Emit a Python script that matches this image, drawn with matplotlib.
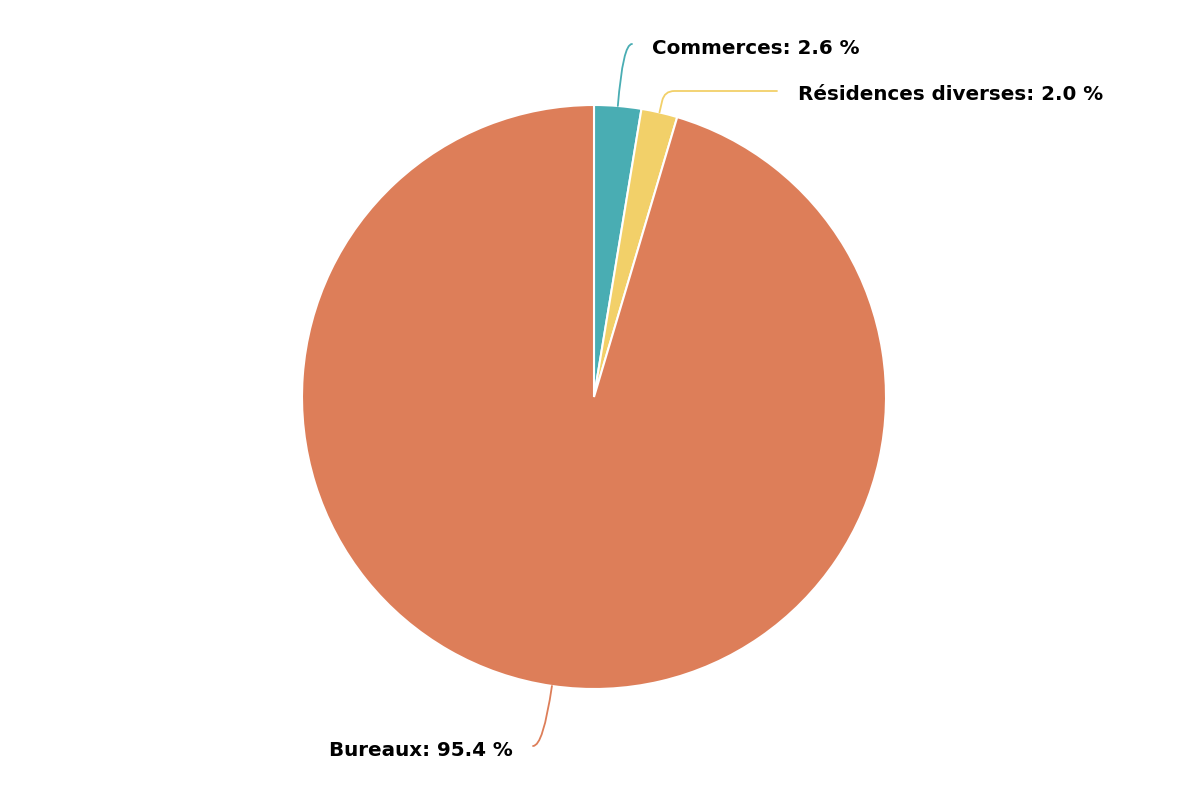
import matplotlib
matplotlib.use("Agg")
import numpy as np
import matplotlib.pyplot as plt

labels = ["Commerces", "Résidences diverses", "Bureaux"]
values = [2.6, 2.0, 95.4]
colors = ["#49adb3", "#f2d069", "#dd7e59"]

fig = plt.figure(figsize=(12, 8), dpi=100)
ax = fig.add_axes([0, 0, 1, 1])

cx, cy, r = 594, 403, 292
wedges, _ = ax.pie(values, colors=colors, startangle=90, counterclock=False,
                   center=(cx, cy), radius=r, frame=True,
                   wedgeprops=dict(edgecolor="white", linewidth=1.5))
ax.set_xlim(0, 1200)
ax.set_ylim(0, 800)
ax.set_aspect("equal")
ax.axis("off")

# label layout: text x, text y, alignment, connector end x, connector style
layout = [(652, 752, "left", 632, "angle3,angleA=0,angleB={a}"),
          (798, 705, "left", 777, "angle,angleA=0,angleB={a},rad=10"),
          (513, 50, "right", 533, "angle3,angleA=0,angleB={a}")]

for w, lab, val, (tx, ty, ha, ex, cs) in zip(wedges, labels, values, layout):
    ang = (w.theta1 + w.theta2) / 2
    px = cx + r * np.cos(np.radians(ang))
    py = cy + r * np.sin(np.radians(ang))
    ax.annotate("", xy=(px, py), xytext=(ex, ty + 4),
                arrowprops=dict(arrowstyle="-", color=w.get_facecolor(), lw=1.3,
                                shrinkA=0, shrinkB=0,
                                connectionstyle=cs.format(a=round(ang, 1))))
    ax.text(tx, ty, f"{lab}: {val:.1f} %", ha=ha, va="center",
            fontsize=14.3, fontweight="bold", color="black")

fig.savefig("out.png", dpi=100)
